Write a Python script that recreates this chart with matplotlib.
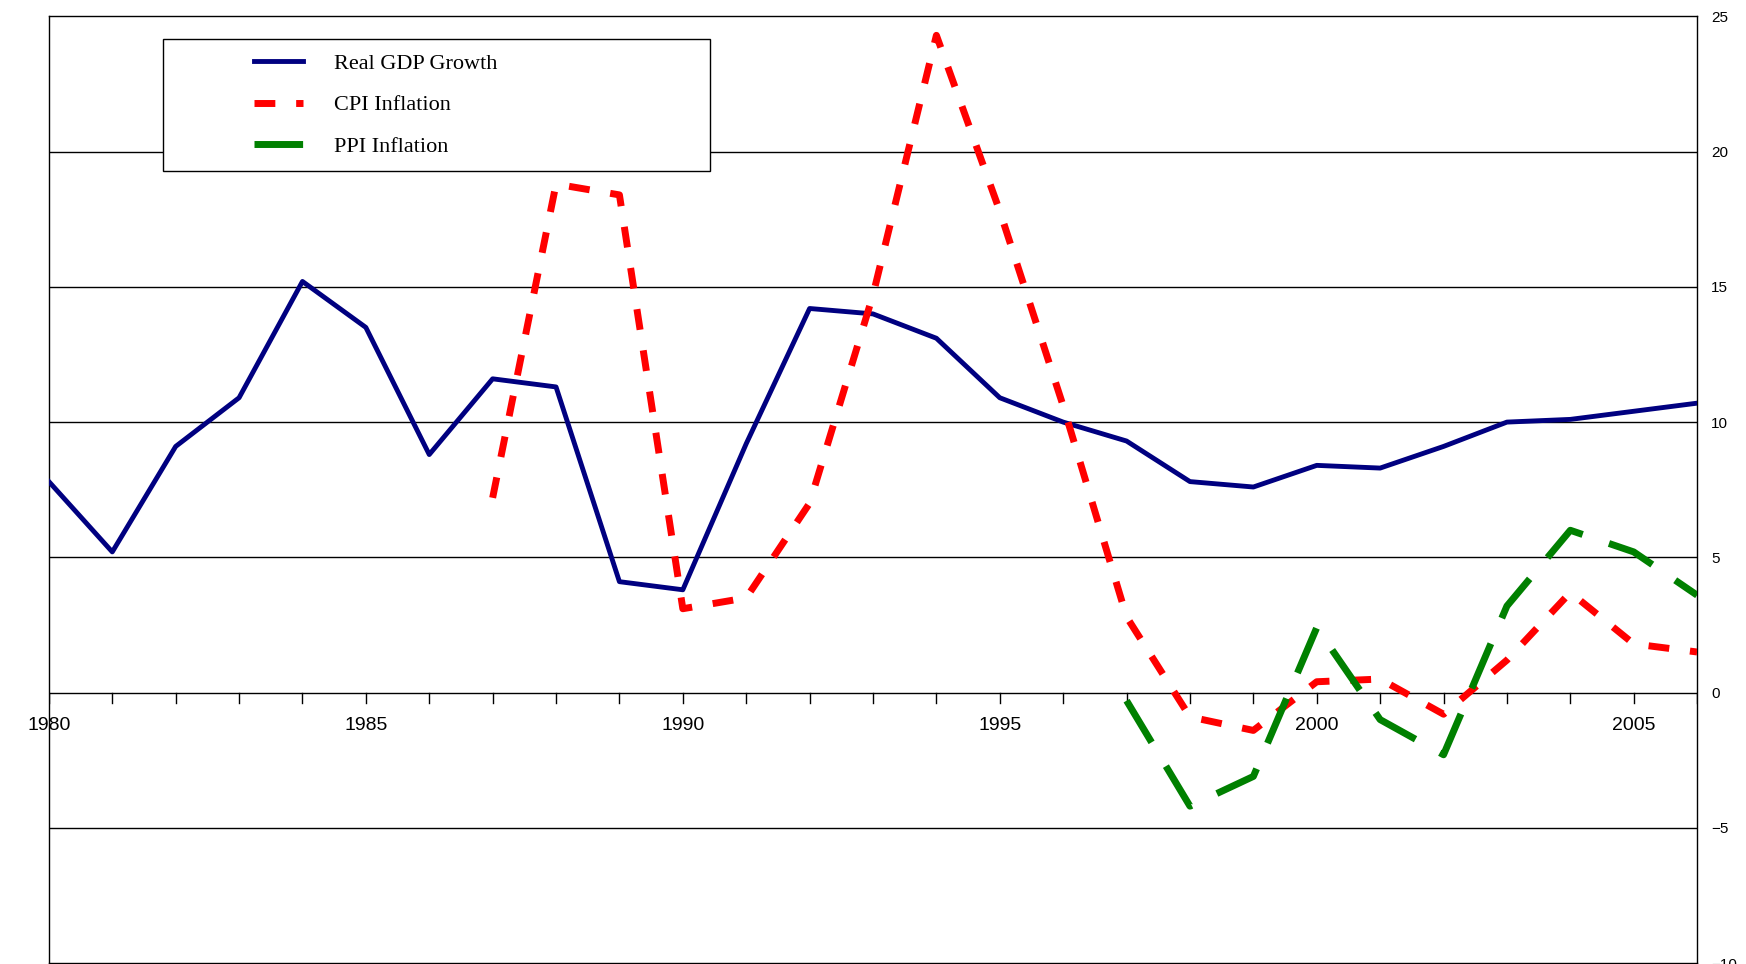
import numpy as np
from matplotlib import pyplot as plt
from matplotlib.patches import Rectangle

years = np.arange(1980, 2007)
gdp = [7.8, 5.2, 9.1, 10.9, 15.2, 13.5, 8.8, 11.6, 11.3, 4.1, 3.8, 9.2, 14.2, 14.0,
       13.1, 10.9, 10.0, 9.3, 7.8, 7.6, 8.4, 8.3, 9.1, 10.0, 10.1, 10.4, 10.7]
cpi_years = np.arange(1987, 2007)
cpi = [7.2, 18.8, 18.4, 3.1, 3.5, 7.0, 14.7, 24.3, 17.8, 10.6, 2.8, -0.9, -1.4,
       0.4, 0.5, -0.8, 1.2, 3.7, 1.8, 1.5]
ppi_years = np.arange(1997, 2007)
ppi = [-0.3, -4.2, -3.1, 2.4, -1.0, -2.3, 3.2, 6.0, 5.2, 3.6]

fig = plt.figure(figsize=(17.46, 9.64), dpi=100)
ax = fig.add_axes([0.028, 0.001, 0.944, 0.982])

for v in range(-5, 25, 5):
    ax.axhline(v, color="black", lw=1, zorder=1)

ax.plot(years, gdp, color="#000080", lw=3.5, label="Real GDP Growth", zorder=3)
ax.plot(cpi_years, cpi, color="#ff0000", lw=5, dashes=(3, 3), label="CPI Inflation", zorder=3)
ax.plot(ppi_years, ppi, color="#008000", lw=5, dashes=(7, 4), label="PPI Inflation", zorder=3)

ax.set_xlim(1980, 2006)
ax.set_ylim(-10, 25)

# x axis drawn at zero, year ticks hanging below
ax.set_xticks([])
for y in range(1980, 2007):
    ax.plot([y, y], [0, -0.4], color="black", lw=1, zorder=2)
for y in range(1980, 2006, 5):
    ax.text(y, -1.2, str(y), ha="center", va="center", fontsize=14, family="Liberation Sans")

ax.yaxis.tick_right()
ax.set_yticks(range(-10, 30, 5))
ax.tick_params(axis="y", length=0, labelsize=11, pad=10)
for lab in ax.get_yticklabels():
    lab.set_family("Liberation Sans")

for s in ax.spines.values():
    s.set_color("black")
    s.set_linewidth(1)

# legend box drawn separately, entries inset like the original
ax.add_patch(Rectangle((0.069, 0.837), 0.332, 0.139, transform=ax.transAxes,
                       facecolor="white", edgecolor="black", lw=1, zorder=4))
leg = ax.legend(loc="upper left", bbox_to_anchor=(0.118, 0.973), frameon=False,
                handlelength=2.2, borderpad=0.5, borderaxespad=0, labelspacing=0.95,
                handletextpad=1.4, prop={"family": "Liberation Serif", "size": 16})
leg.set_zorder(5)

fig.savefig("out.png")
